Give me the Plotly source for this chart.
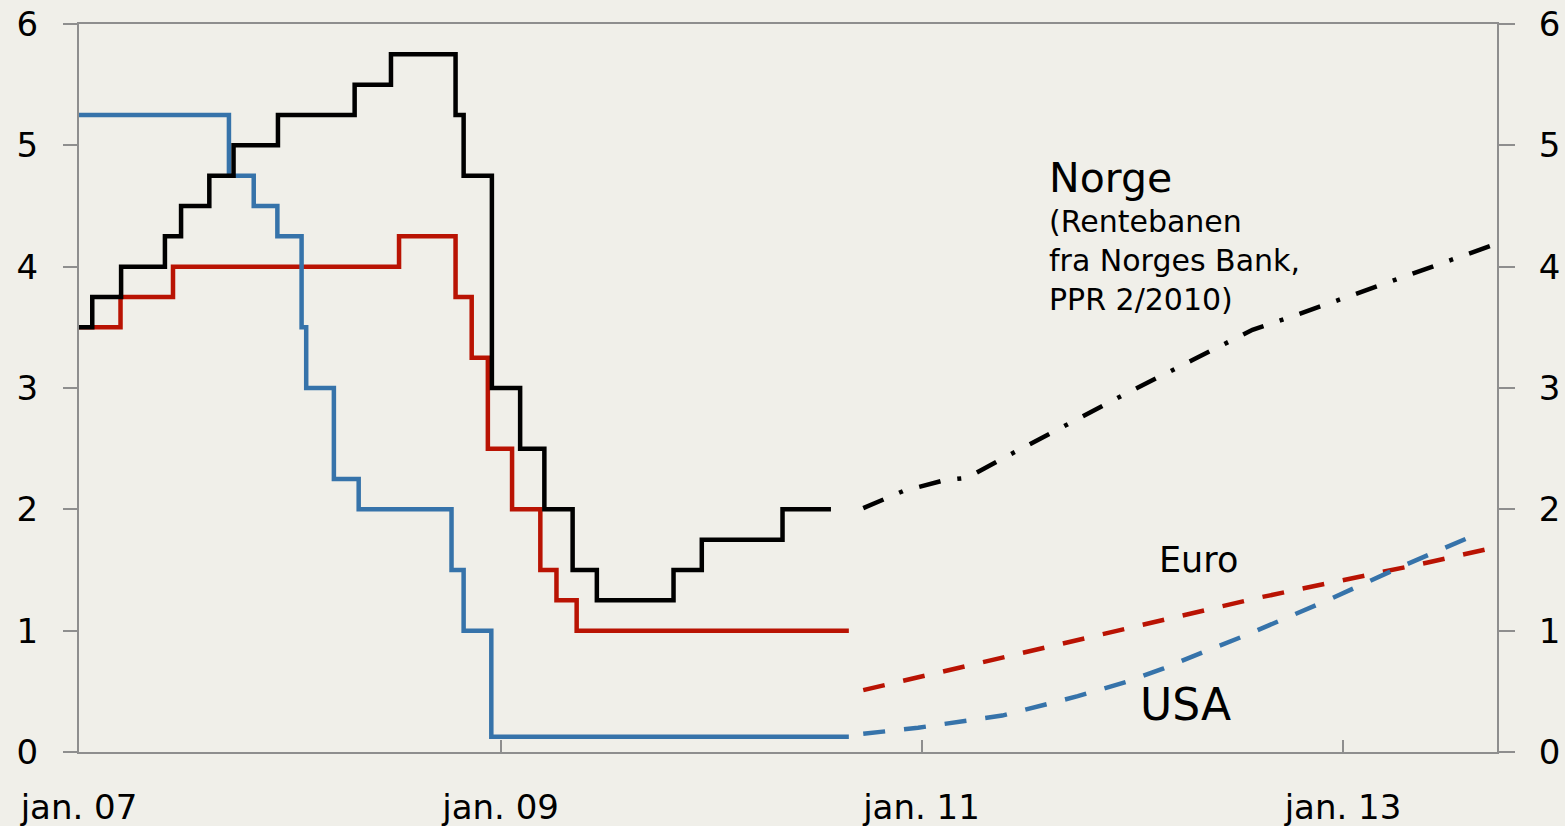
import plotly.graph_objects as go

# ---- Data ----
norway_dates = ["2007-01-01", "2007-01-24", "2007-03-15", "2007-05-30", "2007-06-27",
                "2007-08-15", "2007-09-26", "2007-12-12", "2008-04-23", "2008-06-25",
                "2008-10-15", "2008-10-29", "2008-12-17", "2009-02-04", "2009-03-18",
                "2009-05-06", "2009-06-17", "2009-10-28", "2009-12-16", "2010-05-05",
                "2010-07-28"]
norway_rates = [3.5, 3.75, 4.0, 4.25, 4.5, 4.75, 5.0, 5.25, 5.5, 5.75,
                5.25, 4.75, 3.0, 2.5, 2.0, 1.5, 1.25, 1.5, 1.75, 2.0, 2.0]

euro_dates = ["2007-01-01", "2007-03-14", "2007-06-13", "2008-07-09", "2008-10-15",
              "2008-11-12", "2008-12-10", "2009-01-21", "2009-03-11", "2009-04-08",
              "2009-05-13", "2010-08-28"]
euro_rates = [3.5, 3.75, 4.0, 4.25, 3.75, 3.25, 2.5, 2.0, 1.5, 1.25, 1.0, 1.0]

usa_dates = ["2007-01-01", "2007-09-18", "2007-10-31", "2007-12-11", "2008-01-22",
             "2008-01-30", "2008-03-18", "2008-04-30", "2008-10-08", "2008-10-29",
             "2008-12-16", "2010-08-28"]
usa_rates = [5.25, 4.75, 4.5, 4.25, 3.5, 3.0, 2.25, 2.0, 1.5, 1.0, 0.125, 0.125]

norway_fc_dates = ["2010-09-22", "2010-11-30", "2011-02-10", "2011-03-21", "2011-05-26",
                   "2011-09-11", "2011-12-24", "2012-04-15", "2012-07-28", "2012-10-11",
                   "2013-01-13", "2013-05-14", "2013-09-25"]
norway_fc_rates = [2.01, 2.15, 2.24, 2.26, 2.43, 2.70, 2.96, 3.23, 3.48, 3.60, 3.76, 3.97, 4.19]

euro_fc_dates = ["2010-09-22", "2011-05-29", "2012-02-15", "2012-08-06", "2013-05-26", "2013-09-25"]
euro_fc_rates = [0.51, 0.79, 1.08, 1.27, 1.56, 1.69]

usa_fc_dates = ["2010-09-22", "2010-12-26", "2011-05-21", "2011-09-29", "2011-12-24",
                "2012-02-25", "2012-05-02", "2012-07-10", "2012-12-05", "2013-04-13",
                "2013-08-28"]
usa_fc_rates = [0.15, 0.20, 0.30, 0.46, 0.58, 0.69, 0.82, 0.95, 1.25, 1.53, 1.81]

x_tick_vals = ["2007-01-01", "2009-01-01", "2011-01-01", "2013-01-01"]
x_tick_text = ["jan. 07", "jan. 09", "jan. 11", "jan. 13"]
y_tick_vals = [0, 1, 2, 3, 4, 5, 6]

# ---- Styles ----
BG = "#F0EFE9"
AX = "#8E8E8E"
RED = "#B91303"
BLUE = "#3673AA"
BLACK = "#000000"
FONT = "DejaVu Sans"
LW = 4.5

fig = go.Figure()

fig.add_trace(go.Scatter(x=euro_dates, y=euro_rates, mode="lines", line_shape="hv",
                         line=dict(color=RED, width=LW), hoverinfo="skip"))
fig.add_trace(go.Scatter(x=usa_dates, y=usa_rates, mode="lines", line_shape="hv",
                         line=dict(color=BLUE, width=LW), hoverinfo="skip"))
fig.add_trace(go.Scatter(x=norway_dates, y=norway_rates, mode="lines", line_shape="hv",
                         line=dict(color=BLACK, width=LW), hoverinfo="skip"))

fig.add_trace(go.Scatter(x=euro_fc_dates, y=euro_fc_rates, mode="lines",
                         line=dict(color=RED, width=LW, dash="22px,19px"), hoverinfo="skip"))
fig.add_trace(go.Scatter(x=usa_fc_dates, y=usa_fc_rates, mode="lines",
                         line=dict(color=BLUE, width=LW, dash="22px,19px"), hoverinfo="skip"))
fig.add_trace(go.Scatter(x=norway_fc_dates, y=norway_fc_rates, mode="lines",
                         line=dict(color=BLACK, width=LW, dash="22px,17px,4px,17px"),
                         hoverinfo="skip"))

# invisible trace to anchor the right-hand axis
fig.add_trace(go.Scatter(x=[norway_dates[0]], y=[None], yaxis="y2", mode="lines",
                         hoverinfo="skip", showlegend=False))

tick_font = dict(size=34, family=FONT, color="black")

fig.update_layout(
    width=1565, height=826,
    margin=dict(l=79, r=68, t=24, b=74),
    paper_bgcolor=BG, plot_bgcolor=BG,
    showlegend=False,
    font=dict(family=FONT, color="black"),
    xaxis=dict(
        type="date", range=["2007-01-01", "2013-09-25"],
        tickvals=x_tick_vals, ticktext=x_tick_text,
        ticks="inside", ticklen=12, tickwidth=2, tickcolor=AX,
        showline=True, linecolor=AX, linewidth=2, mirror=True,
        showgrid=False, zeroline=False, automargin=False,
        tickfont=tick_font, ticklabelstandoff=24,
    ),
    yaxis=dict(
        range=[0, 6], tickvals=y_tick_vals,
        ticks="outside", ticklen=14, tickwidth=2, tickcolor=AX,
        showline=True, linecolor=AX, linewidth=2,
        showgrid=False, zeroline=False, automargin=False,
        tickfont=tick_font, ticklabelstandoff=18,
    ),
    yaxis2=dict(
        range=[0, 6], tickvals=y_tick_vals, overlaying="y", side="right",
        ticks="outside", ticklen=16, tickwidth=2, tickcolor=AX,
        showline=True, linecolor=AX, linewidth=2,
        showgrid=False, zeroline=False, automargin=False,
        tickfont=tick_font, ticklabelstandoff=17,
    ),
)

fig.add_annotation(text="Norge", xref="paper", yref="paper", x=0.683, y=0.788,
                   xanchor="left", yanchor="middle", showarrow=False,
                   font=dict(size=41, family=FONT, color="black"))
fig.add_annotation(text="(Rentebanen<br>fra Norges Bank,<br>PPR 2/2010)",
                   xref="paper", yref="paper", x=0.683, y=0.755,
                   xanchor="left", yanchor="top", align="left", showarrow=False,
                   font=dict(size=30, family=FONT, color="black"))
fig.add_annotation(text="Euro", xref="paper", yref="paper", x=0.760, y=0.264,
                   xanchor="left", yanchor="middle", showarrow=False,
                   font=dict(size=35, family=FONT, color="black"))
fig.add_annotation(text="USA", xref="paper", yref="paper", x=0.747, y=0.0646,
                   xanchor="left", yanchor="middle", showarrow=False,
                   font=dict(size=44, family=FONT, color="black"))

fig.write_html(
    "out.html",
    config={"displayModeBar": False},
    post_script="document.body.style.margin='0';document.body.style.background='" + BG + "';",
)
